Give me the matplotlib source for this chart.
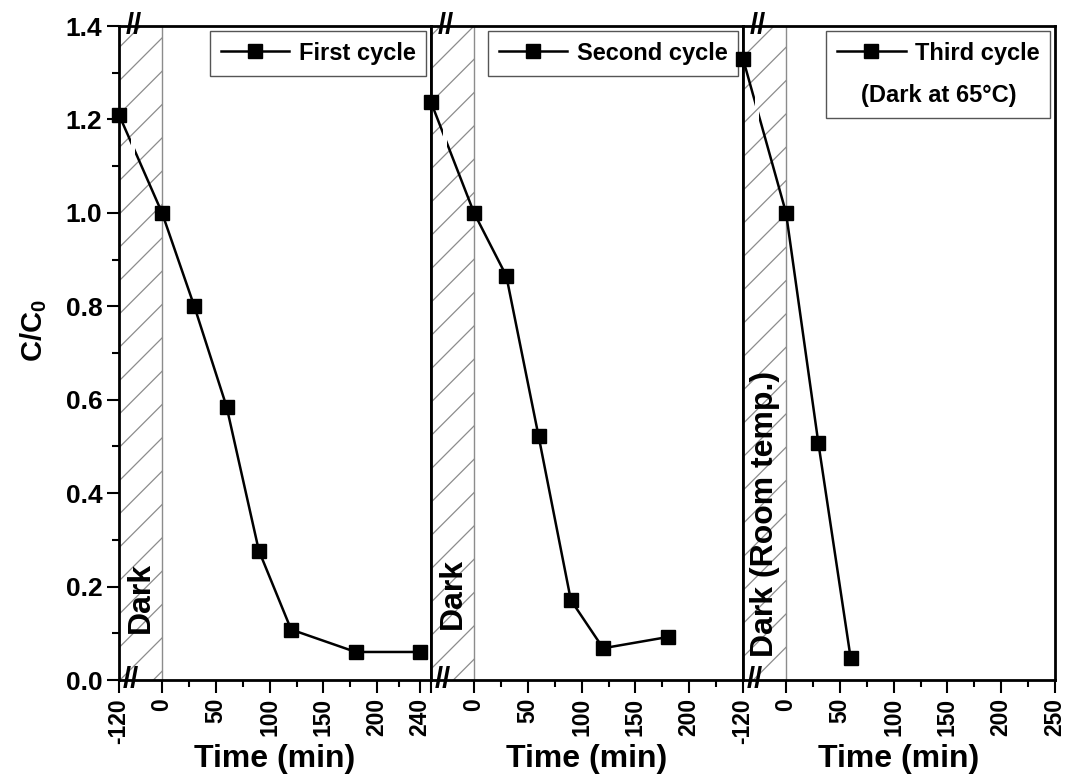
#import Libraries
import numpy as np
import matplotlib
matplotlib.use("Agg")
from matplotlib import pyplot as plt
from matplotlib.patches import Rectangle
##################################################

# data
t1 = [-120, 0, 30, 60, 90, 120, 180, 240]
c1 = [1.21, 1.0, 0.80, 0.585, 0.277, 0.108, 0.06, 0.06]
t2 = [-120, 0, 30, 60, 90, 120, 180]
c2 = [1.237, 1.0, 0.865, 0.522, 0.171, 0.068, 0.092]
t3 = [-120, 0, 30, 60]
c3 = [1.33, 1.0, 0.508, 0.048]

labels = ['First cycle', 'Second cycle', 'Third cycle']
dark_texts = ['Dark', 'Dark', 'Dark (Room temp.)']
dark_y = [0.10, 0.11, 0.05]

major1 = [-120, 0, 50, 100, 150, 200, 240]
minor1 = [25, 75, 125, 175, 220]
major2 = [-120, 0, 50, 100, 150, 200]
major3 = [-120, 0, 50, 100, 150, 200, 250]
minor23 = [25, 75, 125, 175, 225]
ticklab1 = ['-120', '0', '50', '100', '150', '200', '240']
ticklab2 = ['', '0', '50', '100', '150', '200']
ticklab3 = ['-120', '0', '50', '100', '150', '200', '250']
yticks = [0.0, 0.2, 0.4, 0.6, 0.8, 1.0, 1.2, 1.4]
##################################################

plt.rcParams['font.family'] = 'Liberation Sans'
plt.rcParams['font.weight'] = 'bold'
plt.rcParams['mathtext.fontset'] = 'custom'
plt.rcParams['mathtext.rm'] = 'Liberation Sans:bold'
plt.rcParams['mathtext.bf'] = 'Liberation Sans:bold'
plt.rcParams['hatch.linewidth'] = 0.9


# dark period (-120..0) is squeezed 3 times on the x axis
def fwd(x):
    x = np.asarray(x, dtype=float)
    return np.where(x < 0, x / 3.0, x)


def inv(x):
    x = np.asarray(x, dtype=float)
    return np.where(x < 0, x * 3.0, x)


fig, axes = plt.subplots(1, 3, figsize=(10.68, 7.82), dpi=100, sharey=True)
fig.subplots_adjust(left=119/1068, right=1055/1068, bottom=102/782, top=756/782, wspace=0)

series = [(t1, c1), (t2, c2), (t3, c3)]
majors = [major1, major2, major3]
minors = [minor1, minor23, minor23]
ticklabs = [ticklab1, ticklab2, ticklab3]

legkw = dict(loc='upper right', handlelength=2.9, handleheight=1.0, handletextpad=0.4,
             borderpad=0.45, borderaxespad=0.2, fancybox=False, framealpha=1,
             edgecolor='#555555', prop={'weight': 'bold', 'size': 17})

for i, ax in enumerate(axes):
    t, c = series[i]
    ax.set_xscale('function', functions=(fwd, inv))
    ax.set_xlim(-120, 250)
    ax.set_ylim(0, 1.4)

    # hatched dark region
    ax.axvspan(-120, 0, facecolor='white', edgecolor='#8c8c8c', hatch='/', lw=1, zorder=0)

    # line is broken where the axis break is
    right = ax.plot(t, c, '-s', color='black', lw=1.8, ms=10.5, label=labels[i], zorder=3)[0]
    right.set_clip_path(Rectangle((-74, -1), 600, 3, transform=ax.transData))
    left = ax.plot(t, c, '-s', color='black', lw=1.8, ms=10.5, zorder=3)[0]
    left.set_clip_path(Rectangle((-300, -1), 214, 3, transform=ax.transData))

    # axis break marks
    ax.text(-80, 1.4, '//', ha='center', va='center', fontsize=21, fontweight='bold',
            clip_on=False, zorder=6)
    ax.text(-86, 0.0, '//', ha='center', va='center', fontsize=21, fontweight='bold',
            clip_on=False, zorder=6)

    ax.text(-60, dark_y[i], dark_texts[i], rotation=90, ha='center', va='bottom',
            fontsize=23, fontweight='bold', zorder=4)

    ax.set_xticks(majors[i])
    ax.set_xticklabels(ticklabs[i], rotation=90, fontsize=16.5, fontweight='bold')
    ax.set_xticks(minors[i], minor=True)
    ax.tick_params(axis='x', which='major', direction='out', length=9, width=1.5, pad=4)
    ax.tick_params(axis='x', which='minor', direction='out', length=5, width=1.5)
    ax.set_xlabel('Time (min)', fontsize=23, fontweight='bold')
    ax.xaxis.set_label_coords(0.5, -0.098)

    for sp in ax.spines.values():
        sp.set_linewidth(2)

    if i == 0:
        ax.set_yticks(yticks)
        ax.set_yticklabels(['%.1f' % v for v in yticks], fontsize=19, fontweight='bold')
        ax.set_yticks(np.arange(0.1, 1.4, 0.2), minor=True)
        ax.tick_params(axis='y', which='major', direction='out', length=9, width=1.5, pad=3)
        ax.tick_params(axis='y', which='minor', direction='out', length=5, width=1.5)
        ax.set_ylabel('C/C$_\\mathbf{0}$', fontsize=21, fontweight='bold')
        ax.yaxis.set_label_coords(-0.225, 0.535)
    else:
        ax.tick_params(axis='y', which='both', left=False, labelleft=False)

    if i < 2:
        leg = ax.legend(**legkw)
    else:
        leg = ax.legend(title='(Dark at 65°C)',
                        title_fontproperties={'weight': 'bold', 'size': 17}, **legkw)
        # put the title line under the entry
        leg._legend_box._children.reverse()
        leg._legend_box.sep = 14
    leg.get_frame().set_linewidth(1.0)
##################################################

plt.savefig('out.png', dpi=100)
